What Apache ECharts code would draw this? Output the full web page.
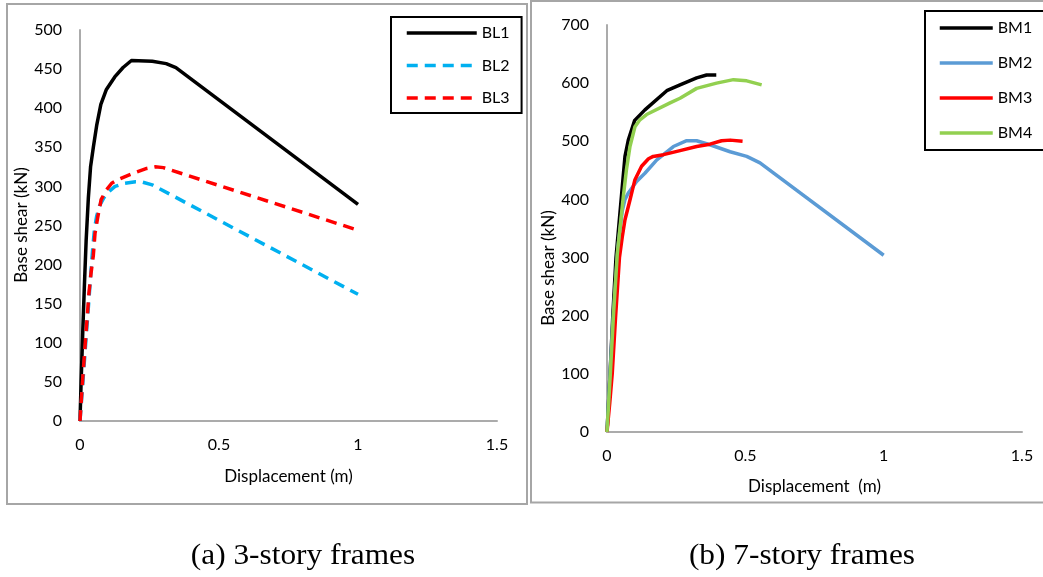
<!DOCTYPE html>
<html>
<head>
<meta charset="utf-8">
<script src="https://cdn.jsdelivr.net/npm/echarts@6/dist/echarts.min.js"></script>
<style>
  html, body { margin: 0; padding: 0; background: #fff; }
  #chart { width: 1043px; height: 577px; }
</style>
</head>
<body>
<div id="chart"></div>
<script>
// (a) 3-story frames: [displacement (m), base shear (kN)]
const bl1 = [[0,0],[0.004,50],[0.01,115],[0.016,175],[0.022,230],[0.03,285],[0.038,325],[0.048,350],[0.06,378],[0.075,405],[0.095,424],[0.125,440],[0.155,452],[0.185,461],[0.26,460],[0.31,457],[0.345,452],[1.0,277]];
const bl2 = [[0,0],[0.01,48],[0.02,97],[0.03,145],[0.04,194],[0.046,222],[0.052,245],[0.06,262],[0.07,275],[0.085,285],[0.1,292],[0.126,300],[0.16,304],[0.2,306],[0.22,306],[0.26,302],[1.0,162]];
const bl3 = [[0,0],[0.005,28],[0.01,55],[0.015,80],[0.02,105],[0.026,133],[0.032,163],[0.04,190],[0.048,212],[0.054,240],[0.064,261],[0.076,283],[0.094,295],[0.114,304],[0.138,309],[0.192,317],[0.24,323],[0.27,325],[0.3,324],[1.0,244]];

// (b) 7-story frames
const bm1 = [[0,0],[0.011,100],[0.021,200],[0.0325,300],[0.043,356],[0.053,410],[0.065,474],[0.077,502],[0.1,536],[0.137,554],[0.216,587],[0.264,597],[0.324,609],[0.36,614],[0.395,614]];
const bm2 = [[0,0],[0.02,180],[0.04,320],[0.055,380],[0.065,400],[0.077,411],[0.107,431],[0.137,445],[0.18,468],[0.24,491],[0.288,501],[0.324,501],[0.372,494],[0.445,482],[0.505,474],[0.553,463],[1.0,304]];
const bm3 = [[0,0],[0.01,50],[0.019,101],[0.031,198],[0.045,300],[0.055,335],[0.065,365],[0.083,399],[0.101,434],[0.125,457],[0.15,470],[0.167,474],[0.204,477],[0.264,484],[0.324,491],[0.372,495],[0.414,501],[0.445,502],[0.49,500]];
const bm4 = [[0,0],[0.012,100],[0.023,198],[0.037,305],[0.048,355],[0.059,405],[0.07,450],[0.083,491],[0.101,525],[0.119,537],[0.143,546],[0.228,566],[0.264,574],[0.324,591],[0.396,600],[0.457,606],[0.505,604],[0.559,597]];

// axis ranges / tick steps
const xTicks = [0, 0.5, 1, 1.5];
const yTicksA = [0, 50, 100, 150, 200, 250, 300, 350, 400, 450, 500];
const yTicksB = [0, 100, 200, 300, 400, 500, 600, 700];

const FONT = 'Lato';
const axisGrey = '#ABABAB';

const myChart = echarts.init(document.getElementById('chart'));

function xAxisOf(gridIndex, gap) {
  return {
    type: 'value',
    gridIndex: gridIndex,
    min: xTicks[0],
    max: xTicks[xTicks.length - 1],
    interval: xTicks[1] - xTicks[0],
    name: gridIndex === 0 ? 'Displacement (m)' : 'Displacement  (m)',
    nameLocation: 'middle',
    nameGap: gap,
    nameTextStyle: { fontFamily: FONT, fontSize: 17, color: '#000' },
    axisLine: { show: true, onZero: false, lineStyle: { color: axisGrey, width: 2 } },
    axisTick: { show: false },
    splitLine: { show: false },
    axisLabel: { fontFamily: FONT, fontSize: 16, color: '#000', margin: 16 }
  };
}

function yAxisOf(gridIndex, ticks) {
  return {
    type: 'value',
    gridIndex: gridIndex,
    min: ticks[0],
    max: ticks[ticks.length - 1],
    interval: ticks[1] - ticks[0],
    axisLine: { show: true, onZero: false, lineStyle: { color: axisGrey, width: 2 } },
    axisTick: { show: false },
    splitLine: { show: false },
    axisLabel: { fontFamily: FONT, fontSize: 16, color: '#000', margin: 18 }
  };
}

function lineSeries(name, data, color, idx, dashed) {
  return {
    name: name,
    type: 'line',
    xAxisIndex: idx,
    yAxisIndex: idx,
    data: data,
    symbol: 'none',
    smooth: false,
    lineStyle: { color: color, width: 3.5, type: dashed ? [11, 7] : 'solid', cap: 'butt', join: 'round' },
    itemStyle: { color: color },
    z: 3
  };
}

const option = {
  animation: false,
  backgroundColor: '#fff',
  grid: [
    { left: 80, top: 30, width: 417, height: 391 },
    { left: 607, top: 25, width: 415, height: 407 }
  ],
  xAxis: [xAxisOf(0, 47), xAxisOf(1, 46)],
  yAxis: [yAxisOf(0, yTicksA), yAxisOf(1, yTicksB)],
  legend: [
    {
      data: ['BL1', 'BL2', 'BL3'],
      orient: 'vertical',
      left: 391, top: 17,
      padding: [8, 12, 7, 14],
      itemWidth: 70, itemHeight: 16, itemGap: 16.5,
      borderColor: '#000', borderWidth: 2,
      backgroundColor: '#fff',
      itemStyle: { opacity: 0 },
      lineStyle: { width: 3.5 },
      textStyle: { fontFamily: FONT, fontSize: 16, color: '#000' }
    },
    {
      data: ['BM1', 'BM2', 'BM3', 'BM4'],
      orient: 'vertical',
      left: 925, top: 11,
      padding: [9, 30, 9, 13],
      itemWidth: 53, itemHeight: 16, itemGap: 19,
      borderColor: '#000', borderWidth: 2,
      backgroundColor: '#fff',
      itemStyle: { opacity: 0 },
      lineStyle: { width: 3.5 },
      textStyle: { fontFamily: FONT, fontSize: 16, color: '#000' }
    }
  ],
  graphic: [
    { type: 'rect', z: -10, shape: { x: 7, y: 4, width: 520, height: 500 }, style: { fill: '#fff', stroke: '#A6A6A6', lineWidth: 2 } },
    { type: 'rect', z: -10, shape: { x: 531, y: 1, width: 530, height: 501.5 }, style: { fill: '#fff', stroke: '#A6A6A6', lineWidth: 2 } },
    { type: 'text', x: 22, y: 225, rotation: Math.PI / 2, style: { text: 'Base shear (kN)', fontFamily: FONT, fontSize: 17, fill: '#000', align: 'center', verticalAlign: 'middle' } },
    { type: 'text', x: 549, y: 268, rotation: Math.PI / 2, style: { text: 'Base shear (kN)', fontFamily: FONT, fontSize: 17, fill: '#000', align: 'center', verticalAlign: 'middle' } },
    { type: 'text', x: 303, y: 556, scaleX: 1.08, style: { text: '(a) 3-story frames', fontFamily: 'Liberation Serif', fontSize: 29, fill: '#000', align: 'center', verticalAlign: 'middle' } },
    { type: 'text', x: 802, y: 556, scaleX: 1.08, style: { text: '(b) 7-story frames', fontFamily: 'Liberation Serif', fontSize: 29, fill: '#000', align: 'center', verticalAlign: 'middle' } }
  ],
  series: [
    lineSeries('BL1', bl1, '#000000', 0, false),
    lineSeries('BL2', bl2, '#00B0F0', 0, true),
    lineSeries('BL3', bl3, '#FF0000', 0, true),
    lineSeries('BM1', bm1, '#000000', 1, false),
    lineSeries('BM2', bm2, '#5B9BD5', 1, false),
    lineSeries('BM3', bm3, '#FF0000', 1, false),
    lineSeries('BM4', bm4, '#92D050', 1, false)
  ]
};

option && myChart.setOption(option);
</script>
</body>
</html>
